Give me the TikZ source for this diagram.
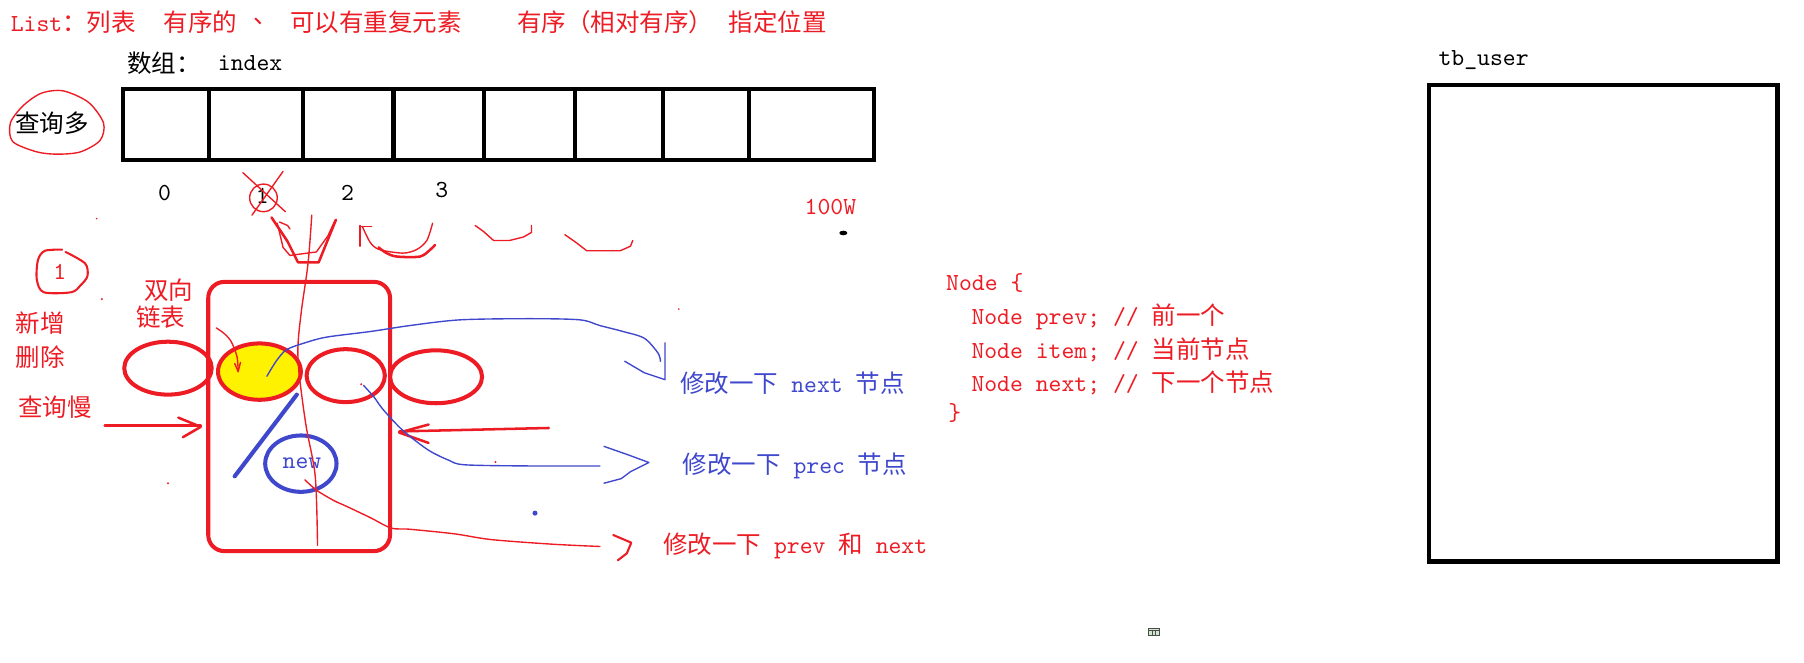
\documentclass[tikz,border=0pt]{standalone}
\usepackage{fontspec}
\setmainfont{Liberation Serif}
\newfontfamily\cjk{Noto Sans CJK SC}
\newcommand\tx{\ttfamily\addfontfeatures{FakeStretch=0.952}}
\usetikzlibrary{shapes.geometric}
\definecolor{pred}{HTML}{ED1C24}
\definecolor{pblue}{HTML}{3F48CC}
\definecolor{pyel}{HTML}{FFF200}
\definecolor{icong}{HTML}{CFE8CF}
\begin{document}
\begin{tikzpicture}[x=0.5pt,y=-0.5pt,
  txt/.style={inner sep=0pt, anchor=west, font=\fontsize{10.65pt}{13pt}\selectfont},
  rtxt/.style={txt, text=pred},
  btxt/.style={txt, text=pblue},
  ktxt/.style={txt, text=black},
  hand/.style={draw=pred, line width=0.6pt, line join=round, line cap=round},
  thand/.style={hand, line width=1.1pt},
  bhand/.style={draw=pblue, line width=0.6pt, line join=round, line cap=round},
  thickbox/.style={draw=black, line width=1.8pt, inner sep=0pt, outer sep=0pt},
  redell/.style={ellipse, draw=pred, line width=1.75pt, inner sep=0pt},
]
\useasboundingbox (0,0) rectangle (1568,576);

% ---------- title ----------
\node[rtxt] (t1) at (9,19) {\tx List\cjk ：列表};
\node[rtxt] (t2) at (142,19) {\cjk 有序的};
\node[rtxt] (t3) at (220,19) {\cjk 、};
\node[rtxt] (t4) at (252,19) {\cjk 可以有重复元素};
\node[rtxt] (t5) at (449,19) {\cjk 有序（相对有序）};
\node[rtxt] (t6) at (633,19) {\cjk 指定位置};

% ---------- array ----------
\node[ktxt] (shuzu) at (110,55) {\cjk 数组：};
\node[ktxt] (index) at (189,55) {\tx index};
\node[thickbox, minimum width=326.5pt, minimum height=31pt] (arr) at (433.5,108) {};
\foreach \xx in {182,263,342,421,500,576,651}
  \draw[black, line width=1.8pt] (\xx,77) -- (\xx,139);

\node[ktxt] (many) at (13,107) {\cjk 查询多};
\draw[hand] plot[smooth cycle] coordinates {(9,107) (20,92) (36,81) (55,79) (77,89) (90,107) (87,122) (70,132) (50,134) (32,132) (11,123)};

\node[ktxt, anchor=center] (i0) at (143,168) {\tx 0};
\node[ktxt, anchor=center] (i1) at (228,170) {\tx 1};
\node[ktxt, anchor=center] (i2) at (302,168) {\tx 2};
\node[ktxt, anchor=center] (i3) at (384,165) {\tx 3};
\draw[hand] (229,172) ellipse [x radius=12, y radius=12];
\draw[hand] (211,150) -- (248,184);
\draw[hand] (246,149) -- (219,187);

\node[rtxt] (w100) at (699,180) {\tx 100W};
\fill[black] (733,202.5) ellipse [x radius=3.5, y radius=2];

% ---------- hand drawn cups ----------
\draw[thand] (236,189) -- (250,210) -- (259,228) -- (277,228) -- (292,191);
\draw[hand] (241,194) -- (246,215) -- (252,222) -- (275,219) -- (285,205) -- (291,192);
\draw[hand] (243,193) -- (250,196) -- (252,199);
\draw[hand] (313,196) -- (313,214);
\draw[hand] (313,197) -- (323,197);
\draw[hand] plot[smooth] coordinates {(315,197) (322,211) (330,217) (350,220) (362,217) (371,209) (376,194)};
\draw[thand] plot[smooth] coordinates {(329,215) (336,220) (345,223) (365,223) (374,217) (378,213)};
\draw[hand] (413,196) -- (420,201) -- (429,209) -- (443,209) -- (455,206) -- (462,202) -- (462,196);
\draw[hand] (491,204) -- (501,211) -- (510,218) -- (539,218) -- (548,214) -- (550,209);

% ---------- left labels ----------
\draw[hand, line width=0.9pt] plot[smooth] coordinates {(54,217) (39,218) (33,226) (32,243) (38,254) (62,254) (70,248) (76,240) (74,229) (57,219)};
\node[rtxt, anchor=center] (one) at (52,236) {\tx 1};
\node[rtxt] (xinzeng) at (13.5,281) {\cjk 新增};
\node[rtxt] (shanchu) at (13.5,310) {\cjk 删除};
\node[rtxt] (slow) at (15.5,353.5) {\cjk 查询慢};
\node[rtxt] (shuang) at (125,252) {\cjk 双向};
\node[rtxt] (lianbiao) at (118,276) {\cjk 链表};

% ---------- linked list ----------
\node[draw=pred, line width=1.75pt, rounded corners=7pt, minimum width=79pt, minimum height=117pt, inner sep=0pt] (lrect) at (260,362) {};
\node[redell, minimum width=38pt, minimum height=23pt] (e1) at (146,320) {};
\node[redell, fill=pyel, minimum width=36pt, minimum height=24.5pt] (yel) at (225.5,323) {};
\node[redell, minimum width=34pt, minimum height=23pt] (e3) at (300.5,326.5) {};
\node[redell, minimum width=40pt, minimum height=23pt] (e4) at (379,327.5) {};
\node[ellipse, draw=pblue, line width=1.75pt, inner sep=0pt, minimum width=31pt, minimum height=24.5pt] (newc) at (261.5,403) {};
\node[btxt, anchor=center] (newt) at (262.5,402.6) {\tx new};

\draw[pblue, line width=1.8pt, line cap=round] (258,343) -- (204,414);
\draw[hand] plot[smooth] coordinates {(188,285) (195,290) (201,297) (206,310) (207,323)};
\draw[hand] (204,316) -- (207,323) -- (209,315);
\draw[hand] plot[smooth] coordinates {(271,187) (269,215) (267,235) (262,270) (259,300) (260,325) (266,370) (274,414) (276,474)};

% arrows into the list
\draw[thand] (91,370) -- (174.5,370);
\draw[thand] (155,363) -- (174.5,371) -- (159,380);
\draw[thand] (477,372) -- (347,375);
\draw[thand] (372.5,369) -- (347,376) -- (372.5,385);

% blue curve to "next"
\draw[bhand] plot[smooth] coordinates {(232,327) (240,314) (249,304) (265,298) (284,293) (323,288) (356,283) (400,278) (460,277) (504,278) (521.5,283) (541,288) (560,294) (572,307) (574,314)};
\draw[bhand] (543,314) -- (560,324) -- (578,330) -- (578,298);
% blue curve to "prec"
\draw[bhand] plot[smooth] coordinates {(316,335) (325,345) (333,356) (350,374) (372,391) (390,400) (404,404) (460,405) (521.5,405)};
\draw[bhand] (525,388) -- (545,395) -- (564,402) -- (548,410) -- (540,416) -- (525,420);
% red curve to "prev and next"
\draw[hand] plot[smooth] coordinates {(265,417) (275,426) (290,435) (301,440) (322,450) (340,459) (356,460) (395,464) (427,469) (480,473) (521.5,475)};
\draw[hand, line width=0.9pt] (533,465) -- (548.7,471.7) -- (544.8,481) -- (537,487);

% stray dots
\fill[pblue] (465,446) circle [radius=2.2];
\fill[pred] (88.5,260) circle [radius=1];
\fill[pred] (84,190) circle [radius=0.8];
\fill[pred] (146,420) circle [radius=1];
\fill[pred] (430.7,401.6) circle [radius=1];
\fill[pred] (590,268.6) circle [radius=0.8];
\fill[pred] (314,334) circle [radius=1];

% ---------- labels on the right of the list ----------
\node[btxt] (lblnext) at (591,333) {\cjk 修改一下\tx{} next \cjk 节点};
\node[btxt] (lblprec) at (593,405) {\cjk 修改一下\tx{} prec \cjk 节点};
\node[rtxt] (lblboth) at (576,474.5) {\cjk 修改一下\tx{} prev \cjk 和\tx{} next};

% ---------- Node code ----------
\node[rtxt] (c0) at (822,246) {\tx Node \{};
\node[rtxt] (c1) at (844,275) {\tx Node prev; // \cjk 前一个};
\node[rtxt] (c2) at (844,304) {\tx Node item; // \cjk 当前节点};
\node[rtxt] (c3) at (844,333) {\tx Node next; // \cjk 下一个节点};
\node[rtxt] (c4) at (824,359) {\tx \}};

% ---------- tb_user ----------
\node[ktxt] (tbl) at (1250,52) {\tx tb\_user};
\node[thickbox, line width=2pt, minimum width=151.5pt, minimum height=207pt] (tbuser) at (1393.5,281) {};

% tiny icon
\node[draw=black!70, fill=icong, line width=0.4pt, minimum width=4.8pt, minimum height=3pt, inner sep=0pt] (icon) at (1002.7,549) {};
\draw[black!70, line width=0.3pt] (998,547.5) -- (1007.5,547.5) (1001.5,547.5) -- (1001.5,552) (1004.5,547.5) -- (1004.5,552);
\end{tikzpicture}
\end{document}
